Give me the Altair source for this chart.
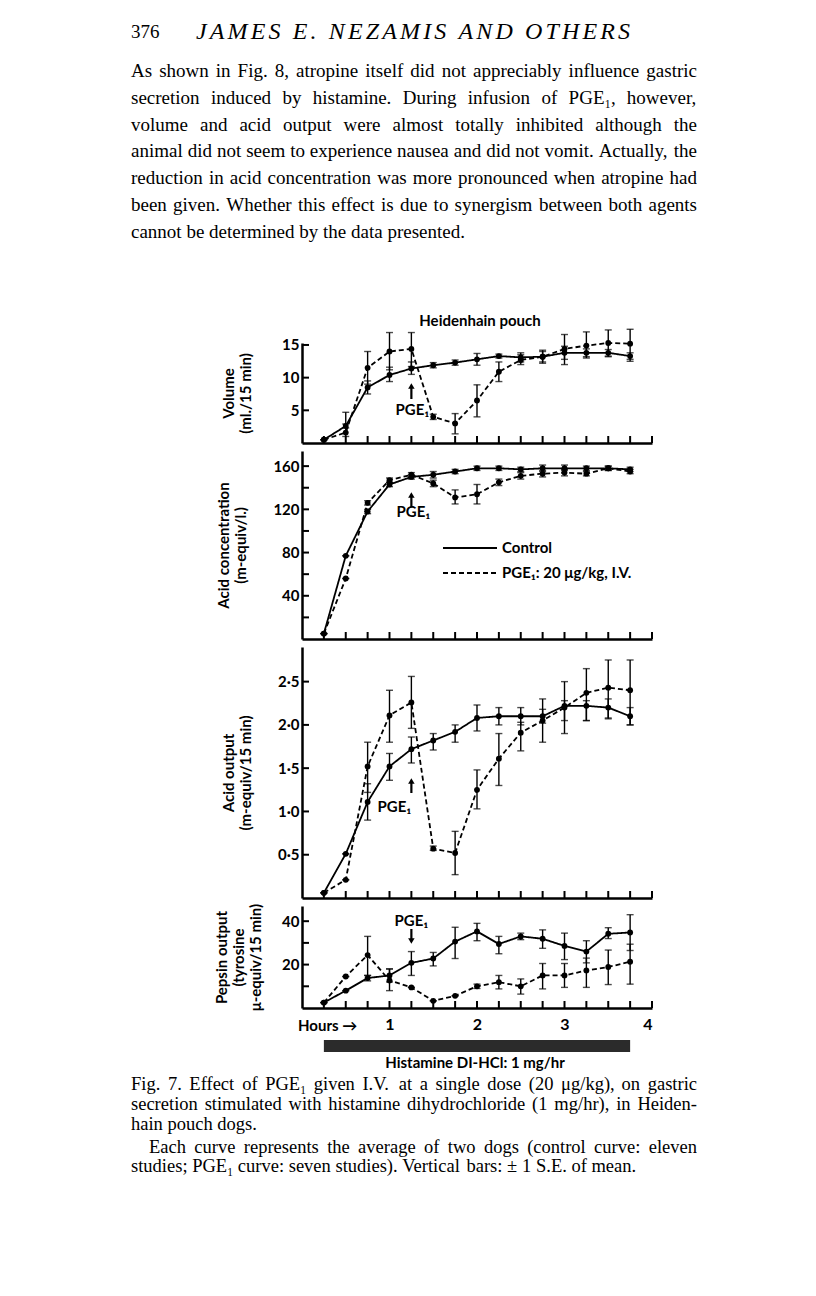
import altair as alt
import pandas as pd

# ---------------- data ----------------
HOURS = [0.25, 0.5, 0.75, 1.0, 1.25, 1.5, 1.75, 2.0, 2.25, 2.5, 2.75, 3.0, 3.25, 3.5, 3.75]
X_TICKS = [0.25, 0.5, 0.75, 1.0, 1.25, 1.5, 1.75, 2.0, 2.25, 2.5, 2.75, 3.0, 3.25, 3.5, 3.75, 4.0]
HOUR_LABELS = [1, 2, 3, 4]
SERIES = ["Control", "PGE\u2081"]
PGE_TIME = 1.25
HIST_START, HIST_END = 0.25, 3.75

# Volume (ml./15 min)
VOL_CTRL = [0.5, 2.6, 8.5, 10.4, 11.4, 11.9, 12.3, 12.8, 13.3, 13.1, 13.2, 13.8, 13.8, 13.8, 13.3]
VOL_CTRL_LO = [0.5, 2.3, 7.5, 9.4, 10.5, 11.5, 11.9, 11.9, 13.0, 12.4, 12.2, 12.8, 13.2, 13.3, 12.8]
VOL_CTRL_HI = [0.5, 2.9, 9.5, 11.6, 12.4, 12.3, 12.7, 13.7, 13.6, 13.8, 14.2, 14.8, 14.4, 14.3, 13.8]
VOL_PGE = [0.5, 1.6, 11.5, 14.0, 14.4, 4.0, 3.0, 6.5, 10.9, 12.7, 13.2, 14.4, 14.9, 15.3, 15.2]
VOL_PGE_LO = [0.5, 1.0, 9.0, 11.2, 11.7, 3.6, 1.4, 4.0, 9.4, 12.0, 12.4, 12.0, 13.0, 13.2, 12.5]
VOL_PGE_HI = [0.5, 4.7, 14.0, 16.9, 16.9, 4.4, 4.5, 8.9, 12.4, 13.5, 14.0, 16.6, 17.0, 17.3, 17.4]

# Acid concentration (m-equiv/l.)
CON_CTRL = [5, 77, 118, 143, 150, 152, 155, 158, 158, 157, 158, 158, 158, 158, 157]
CON_CTRL_LO = [5, 77, 116, 141, 148, 149, 153, 156, 156, 155, 155, 156, 156, 156, 155]
CON_CTRL_HI = [5, 77, 120, 145, 152, 155, 157, 160, 160, 159, 161, 161, 160, 160, 159]
CON_PGE = [5, 56, 126, 147, 152, 144, 131, 134, 145, 151, 153, 154, 153, 158, 155]
CON_PGE_LO = [5, 56, 124, 145, 150, 141, 125, 125, 142, 148, 150, 151, 151, 156, 153]
CON_PGE_HI = [5, 56, 128, 149, 154, 147, 138, 143, 148, 154, 156, 157, 155, 160, 157]

# Acid output (m-equiv/15 min)
OUT_CTRL = [0.06, 0.51, 1.11, 1.52, 1.72, 1.82, 1.92, 2.08, 2.10, 2.10, 2.10, 2.22, 2.22, 2.20, 2.10]
OUT_CTRL_LO = [0.06, 0.51, 0.90, 1.36, 1.56, 1.71, 1.80, 1.93, 2.00, 2.00, 2.02, 2.05, 2.05, 2.08, 2.00]
OUT_CTRL_HI = [0.06, 0.51, 1.32, 1.67, 1.86, 1.90, 2.00, 2.23, 2.20, 2.20, 2.18, 2.28, 2.28, 2.30, 2.20]
OUT_PGE = [0.06, 0.21, 1.52, 2.11, 2.26, 0.57, 0.52, 1.25, 1.61, 1.91, 2.05, 2.20, 2.37, 2.43, 2.40]
OUT_PGE_LO = [0.06, 0.21, 1.22, 1.80, 1.96, 0.55, 0.27, 1.03, 1.30, 1.70, 1.80, 1.90, 2.05, 2.07, 2.00]
OUT_PGE_HI = [0.06, 0.21, 1.80, 2.40, 2.56, 0.60, 0.77, 1.48, 1.90, 2.03, 2.30, 2.50, 2.65, 2.75, 2.75]

# Pepsin output (tyrosine µ-equiv/15 min)
PEP_CTRL = [2.5, 8.0, 13.8, 15.0, 20.8, 22.8, 30.6, 35.3, 29.5, 33.0, 31.9, 28.6, 26.0, 34.2, 34.8]
PEP_CTRL_LO = [2.5, 8.0, 12.5, 12.0, 15.0, 19.4, 22.8, 31.0, 25.0, 31.5, 27.5, 22.3, 20.8, 32.0, 26.5]
PEP_CTRL_HI = [2.5, 8.0, 15.0, 18.0, 26.0, 25.6, 37.2, 39.0, 33.0, 34.5, 36.0, 34.5, 31.0, 37.0, 43.0]
PEP_PGE = [2.5, 14.5, 24.4, 12.7, 9.5, 3.3, 5.6, 10.0, 11.9, 10.0, 15.0, 15.0, 17.3, 18.9, 21.3]
PEP_PGE_LO = [2.5, 14.5, 15.0, 8.0, 9.5, 3.3, 5.6, 9.0, 8.8, 6.4, 8.8, 9.5, 9.5, 10.8, 11.0]
PEP_PGE_HI = [2.5, 14.5, 33.0, 18.0, 9.5, 3.3, 5.6, 11.0, 15.0, 13.4, 20.5, 20.5, 23.0, 26.7, 29.4]

# ---------------- text ----------------
PAGE_NO = "376"
RUNNING_HEAD = "JAMES E. NEZAMIS AND OTHERS"
PARAGRAPH = [
    "As shown in Fig. 8, atropine itself did not appreciably influence gastric",
    "secretion induced by histamine. During infusion of PGE\u2081, however,",
    "volume and acid output were almost totally inhibited although the",
    "animal did not seem to experience nausea and did not vomit. Actually, the",
    "reduction in acid concentration was more pronounced when atropine had",
    "been given. Whether this effect is due to synergism between both agents",
    "cannot be determined by the data presented.",
]
FIG_TITLE = "Heidenhain pouch"
HIST_LABEL = "Histamine DI-HCl: 1 mg/hr"
CAPTION = [
    "Fig. 7. Effect of PGE\u2081 given I.V. at a single dose (20 \u03bcg/kg), on gastric",
    "secretion stimulated with histamine dihydrochloride (1 mg/hr), in Heiden-",
    "hain pouch dogs.",
    "Each curve represents the average of two dogs (control curve: eleven",
    "studies; PGE\u2081 curve: seven studies). Vertical bars: \u00b1 1 S.E. of mean.",
]
CAPTION_JUSTIFIED = [True, True, False, True, False]
CAPTION_INDENT = [0, 0, 0, 18, 0]
LEGEND = ["Control", "PGE\u2081: 20 \u03bcg/kg, I.V."]

# ---------------- styling / layout helpers ----------------
SANS = "Lato"
SERIF = "Liberation Serif"
W = 350
XS = alt.Scale(domain=[0, 4], nice=False, zero=False)
LEFT = -171          # left text margin relative to the plot origin
TEXT_W = 566         # justified text width

# Times (Liberation Serif) advance widths, 1/1000 em
_TIMES = {" ": 250, ",": 250, ".": 250, ":": 278, ";": 278, "(": 333, ")": 333, "-": 333,
          "/": 278, "\u00b1": 564, "\u03bc": 500, "\u2081": 330}
_TIMES.update({d: 500 for d in "0123456789"})
_TIMES.update(dict(zip("abcdefghijklmnopqrstuvwxyz",
                       [444, 500, 444, 500, 444, 333, 500, 500, 278, 278, 500, 278, 778,
                        500, 500, 500, 500, 333, 389, 278, 500, 500, 722, 500, 500, 444])))
_TIMES.update(dict(zip("ABCDEFGHIJKLMNOPQRSTUVWXYZ",
                       [722, 667, 667, 722, 611, 556, 722, 722, 333, 389, 722, 611, 889,
                        722, 722, 556, 722, 667, 556, 611, 722, 722, 944, 722, 722, 611])))
_TIMES_IT_CAPS = dict(zip("ABCDEFGHIJKLMNOPQRSTUVWXYZ",
                          [611, 611, 667, 722, 611, 611, 722, 722, 333, 444, 667, 556, 833,
                           667, 722, 611, 722, 611, 500, 556, 722, 611, 833, 611, 556, 556]))
_TIMES_IT_CAPS.update({" ": 250, ".": 250})


def tw(s, size, table=_TIMES):
    return sum(table.get(c, 500) for c in s) * size / 1000.0


def justify(lines, size, ys, justified, indents):
    rows = []
    for i, line in enumerate(lines):
        words = line.split(" ")
        x = LEFT + indents[i]
        natural = sum(tw(w, size) for w in words)
        gap = tw(" ", size)
        if justified[i] and len(words) > 1:
            gap = (TEXT_W - indents[i] - natural) / (len(words) - 1)
        for w in words:
            rows.append({"text": w, "px": x, "py": ys[i]})
            x += tw(w, size) + gap
    return pd.DataFrame(rows)


def tracked(text, size, x_left, x_right, y):
    natural = tw(text, size, _TIMES_IT_CAPS)
    track = (x_right - x_left - natural) / (len(text) - 1)
    rows, x = [], x_left
    for c in text:
        if c != " ":
            rows.append({"text": c, "px": x, "py": y})
        x += tw(c, size, _TIMES_IT_CAPS) + track
    return pd.DataFrame(rows)


def series_frame(ctrl, ctrl_lo, ctrl_hi, pge, pge_lo, pge_hi):
    rows = []
    for name, v, lo, hi in ((SERIES[0], ctrl, ctrl_lo, ctrl_hi), (SERIES[1], pge, pge_lo, pge_hi)):
        for t, a, b, c in zip(HOURS, v, lo, hi):
            rows.append({"t": t, "series": name, "v": a, "lo": b, "hi": c})
    return pd.DataFrame(rows)


def x_axis(labels):
    return alt.Axis(title=None, labels=labels, values=HOUR_LABELS, ticks=False, grid=False,
                    domainWidth=2.5, domainColor="black", labelFont=SANS, labelFontSize=16,
                    labelFontWeight="bold", labelColor="black", labelPadding=8)


def y_axis(title, values, dot, title_pad):
    kw = dict(title=title, values=values, ticks=False, grid=False, domainWidth=2.5,
              domainColor="black", labelFont=SANS, labelFontSize=15, labelFontWeight="bold",
              labelColor="black", labelPadding=3, titleFont=SANS, titleFontSize=15,
              titleFontWeight="bold", titleColor="black", titlePadding=title_pad,
              titleLineHeight=17)
    if dot:
        kw["labelExpr"] = "replace(format(datum.value, '.1f'), '.', '\u00b7')"
    return alt.Axis(**kw)


def panel(df, ydom, h, ylabels, yticks, title, title_pad, dot=False, xlabels=False,
          arrow=None, pge_label=None, extra=()):
    ys = alt.Scale(domain=ydom, nice=False, zero=False)
    xa = x_axis(xlabels)
    ya = y_axis(title, ylabels, dot, title_pad)
    X = alt.X("t:Q", scale=XS, axis=xa)

    def Y(field):
        return alt.Y(f"{field}:Q", scale=ys, axis=ya)

    base = alt.Chart(df)
    dash = alt.StrokeDash("series:N", scale=alt.Scale(domain=SERIES, range=[[1, 0], [5, 3]]),
                          legend=None)
    layers = [
        base.mark_line(color="black", strokeWidth=1.8).encode(x=X, y=Y("v"), strokeDash=dash),
        base.mark_rule(color="black", strokeWidth=1.4).encode(x=X, y=Y("lo"), y2="hi:Q"),
        base.mark_tick(color="black", orient="horizontal", size=7, thickness=1.4).encode(x=X, y=Y("lo")),
        base.mark_tick(color="black", orient="horizontal", size=7, thickness=1.4).encode(x=X, y=Y("hi")),
        base.mark_circle(color="black", size=34, opacity=1).encode(x=X, y=Y("v")),
        alt.Chart(pd.DataFrame({"t": X_TICKS})).mark_rule(color="black", strokeWidth=2)
        .encode(x=X, y=alt.value(h), y2=alt.value(h - 7)),
        alt.Chart(pd.DataFrame({"v": yticks})).mark_rule(color="black", strokeWidth=2)
        .encode(y=Y("v"), x=alt.value(0), x2=alt.value(7)),
    ]
    ann = pd.DataFrame({"t": [PGE_TIME], "label": ["PGE\u2081"]})
    if arrow:
        tip, tail = arrow
        up = tip < tail
        head_y = tip + 3 if up else tip - 3
        shaft_from = tip + 5 if up else tip - 5
        layers.append(alt.Chart(ann).mark_rule(color="black", strokeWidth=2.2)
                      .encode(x=X, y=alt.value(shaft_from), y2=alt.value(tail)))
        layers.append(alt.Chart(ann).mark_point(shape="triangle-up" if up else "triangle-down",
                                                filled=True, color="black", opacity=1, size=42)
                      .encode(x=X, y=alt.value(head_y)))
    if pge_label:
        layers.append(alt.Chart(ann).mark_text(font=SANS, fontSize=15, fontWeight="bold",
                                               color="black", dx=pge_label[1])
                      .encode(x=X, y=alt.value(pge_label[0]), text="label:N"))
    layers.extend(extra)
    return alt.layer(*layers).properties(width=W, height=h)


# ---------------- panels ----------------
H_VOL, H_CON, H_OUT, H_PEP = 100, 188, 251, 102

vol = panel(series_frame(VOL_CTRL, VOL_CTRL_LO, VOL_CTRL_HI, VOL_PGE, VOL_PGE_LO, VOL_PGE_HI),
            [0, 15.3], H_VOL, [5, 10, 15], [5, 10, 15], ["Volume", "(ml./15 min)"], 28,
            arrow=(40, 56), pge_label=(67, 1))

leg_df = pd.DataFrame({"label": [LEGEND[0]]})
leg_df2 = pd.DataFrame({"label": [LEGEND[1]]})
legend_layers = [
    alt.Chart(leg_df).mark_rule(color="black", strokeWidth=1.8)
    .encode(x=alt.value(141), x2=alt.value(195), y=alt.value(97)),
    alt.Chart(leg_df).mark_text(font=SANS, fontSize=15, fontWeight="bold", color="black", align="left")
    .encode(x=alt.value(200), y=alt.value(97), text="label:N"),
    alt.Chart(leg_df2).mark_rule(color="black", strokeWidth=1.8, strokeDash=[5, 3])
    .encode(x=alt.value(141), x2=alt.value(195), y=alt.value(122)),
    alt.Chart(leg_df2).mark_text(font=SANS, fontSize=15, fontWeight="bold", color="black", align="left")
    .encode(x=alt.value(200), y=alt.value(122), text="label:N"),
]
con = panel(series_frame(CON_CTRL, CON_CTRL_LO, CON_CTRL_HI, CON_PGE, CON_PGE_LO, CON_PGE_HI),
            [0, 174], H_CON, [40, 80, 120, 160], [20, 40, 60, 80, 100, 120, 140, 160],
            ["Acid concentration", "(m-equiv/l.)"], 24,
            arrow=(41, 56), pge_label=(61, 2), extra=legend_layers)

out = panel(series_frame(OUT_CTRL, OUT_CTRL_LO, OUT_CTRL_HI, OUT_PGE, OUT_PGE_LO, OUT_PGE_HI),
            [0, 2.9], H_OUT, [0.5, 1.0, 1.5, 2.0, 2.5], [0.5, 1.0, 1.5, 2.0, 2.5],
            ["Acid output", "(m-equiv/15 min)"], 24, dot=True,
            arrow=(131, 146), pge_label=(160, -17))

hours_df = pd.DataFrame({"label": ["Hours \u2192"]})
hours_layer = alt.Chart(hours_df).mark_text(font=SANS, fontSize=15, fontWeight="bold", color="black",
                                            align="left").encode(x=alt.value(-4), y=alt.value(H_PEP + 18),
                                                                 text="label:N")
pep = panel(series_frame(PEP_CTRL, PEP_CTRL_LO, PEP_CTRL_HI, PEP_PGE, PEP_PGE_LO, PEP_PGE_HI),
            [0, 47], H_PEP, [20, 40], [10, 20, 30, 40],
            ["Pepsin output", "(tyrosine", "\u03bc-equiv/15 min)"], 18, xlabels=True,
            arrow=(38, 23), pge_label=(15, 0), extra=[hours_layer])

# ---------------- page text ----------------
def page_text(df, **kw):
    return alt.Chart(df).mark_text(color="black", baseline="middle", align="left", **kw).encode(
        x=alt.X("px:Q", scale=None, axis=None), y=alt.Y("py:Q", scale=None, axis=None), text="text:N")


top_head = pd.DataFrame({"text": [PAGE_NO], "px": [LEFT], "py": [24]})
top_run = tracked(RUNNING_HEAD, 24, -106, 328, 24)
top_para = justify(PARAGRAPH, 19, [63 + 26.8 * i for i in range(len(PARAGRAPH))],
                   [True] * 6 + [False], [0] * 7)
top_title = pd.DataFrame({"text": [FIG_TITLE], "px": [178], "py": [313]})

top = alt.layer(
    page_text(top_head, font=SERIF, fontSize=19),
    page_text(top_run, font=SERIF, fontSize=24, fontStyle="italic"),
    page_text(top_para, font=SERIF, fontSize=19),
    alt.Chart(top_title).mark_text(color="black", baseline="middle", align="center", font=SANS,
                                   fontSize=15, fontWeight="bold").encode(
        x=alt.X("px:Q", scale=None, axis=None), y=alt.Y("py:Q", scale=None, axis=None), text="text:N"),
).properties(width=W, height=327)

bot_cap = justify(CAPTION, 18.5, [68, 88, 108, 131, 150], CAPTION_JUSTIFIED, CAPTION_INDENT)
bot_hist = pd.DataFrame({"text": [HIST_LABEL], "px": [173], "py": [47]})
bar_df = pd.DataFrame({"t": [HIST_START], "t2": [HIST_END]})
bottom = alt.layer(
    alt.Chart(bar_df).mark_rect(color="#2b2b2b").encode(
        x=alt.X("t:Q", scale=XS, axis=None), x2="t2:Q", y=alt.value(24), y2=alt.value(36)),
    alt.Chart(bot_hist).mark_text(color="black", baseline="middle", align="center", font=SANS,
                                  fontSize=15, fontWeight="bold").encode(
        x=alt.X("px:Q", scale=None, axis=None), y=alt.Y("py:Q", scale=None, axis=None), text="text:N"),
    page_text(bot_cap, font=SERIF, fontSize=18.5),
).properties(width=W, height=170)

chart = alt.vconcat(top, vol, con, out, pep, bottom, spacing=8, bounds="flush").properties(
    padding={"left": 123, "top": 0, "right": 0, "bottom": 0}
).configure(background="white").configure_view(stroke="transparent", strokeWidth=0)

chart.save("out.html", embed_options={"renderer": "svg", "actions": False})
